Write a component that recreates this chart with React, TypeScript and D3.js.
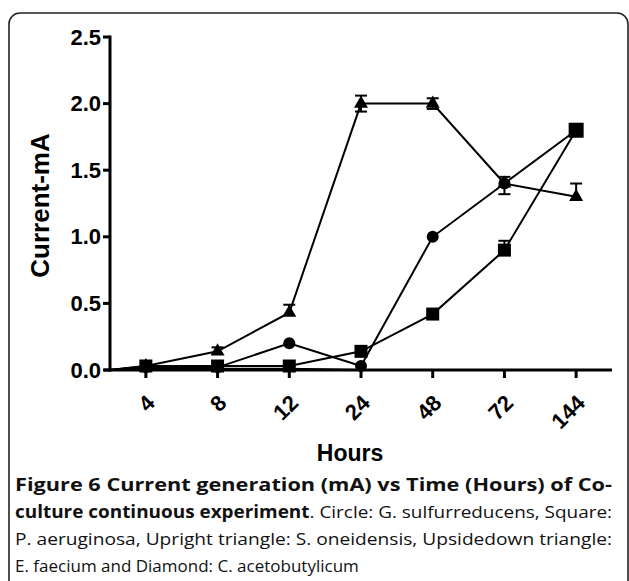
import * as d3 from "d3";

const hours = ["4", "8", "12", "24", "48", "72", "144"];
const yTicks = [0, 0.5, 1.0, 1.5, 2.0, 2.5];

// Circle: G. sulfurreducens
const circleVals = [0.02, 0.02, 0.2, 0.03, 1.0, 1.4, 1.8];
// Square: P. aeruginosa
const squareVals = [0.03, 0.03, 0.03, 0.14, 0.42, 0.9, 1.8];
const squareErrLo = [0, 0, 0, 0, 0, 0, 0.02];
const squareErrHi = [0, 0, 0, 0, 0, 0.07, 0.03];
// Upright triangle: S. oneidensis
const triVals = [0.03, 0.14, 0.43, 2.0, 2.0, 1.4, 1.3];
const triErrLo = [0, 0, 0, 0.06, 0.04, 0.08, 0];
const triErrHi = [0, 0.03, 0.06, 0.06, 0.04, 0.05, 0.1];
// Upsidedown triangle: E. faecium (hidden near the axis)
const invTriVals = [0.01, 0.01, 0.01, 0, 0, 0, 0];

const W = 629;
const H = 581;
const left = 110;
const right = 612;
const top = 37;
const bottom = 370;

const axisFont = "'Liberation Sans', Arial, Helvetica, sans-serif";
const capFont = "'Open Sans', 'DejaVu Sans', sans-serif";

export default function App() {
  const x = d3.scalePoint<string>().domain(hours).range([left, right]).padding(0.5);
  const y = d3.scaleLinear().domain([0, 2.5]).range([bottom, top]);

  const line = d3
    .line<[number, number]>()
    .x((d) => d[0])
    .y((d) => d[1]);

  // every series is joined back to the axis origin, as in the original plot
  const pathFor = (vals: number[]) => {
    const pts: [number, number][] = [[left, y(0)]];
    vals.forEach((v, i) => pts.push([x(hours[i])!, y(v)]));
    return line(pts)!;
  };

  const errBars = (vals: number[], lo: number[], hi: number[], key: string) =>
    vals.map((v, i) => {
      if (!lo[i] && !hi[i]) return null;
      const cx = x(hours[i])!;
      const y1 = y(v + hi[i]);
      const y2 = y(v - lo[i]);
      return (
        <g key={key + i} stroke="#000" strokeWidth={2}>
          <line x1={cx} x2={cx} y1={y1} y2={y2} />
          {hi[i] > 0 && <line x1={cx - 6} x2={cx + 6} y1={y1} y2={y1} />}
          {lo[i] > 0 && <line x1={cx - 6} x2={cx + 6} y1={y2} y2={y2} />}
        </g>
      );
    });

  const triSym = d3.symbol(d3.symbolTriangle, 85)()!;

  return (
    <svg
      width={W}
      height={H}
      style={{ position: "absolute", left: 0, top: 0, background: "#fff" }}
    >
      <rect x={9} y={13} width={619} height={600} rx={11} fill="#fff" stroke="#222" strokeWidth={1.6} />

      {/* series lines */}
      <g fill="none" stroke="#000" strokeWidth={2}>
        <path d={pathFor(invTriVals)} />
        <path d={pathFor(circleVals)} />
        <path d={pathFor(squareVals)} />
        <path d={pathFor(triVals)} />
      </g>

      {errBars(triVals, triErrLo, triErrHi, "t")}
      {errBars(squareVals, squareErrLo, squareErrHi, "s")}

      {/* markers */}
      {circleVals.map((v, i) => (
        <circle key={"c" + i} cx={x(hours[i])!} cy={y(v)} r={6} fill="#000" />
      ))}
      {triVals.map((v, i) => (
        <path key={"t" + i} d={triSym} transform={`translate(${x(hours[i])},${y(v)})`} fill="#000" />
      ))}
      {squareVals.map((v, i) => {
        const s = i === hours.length - 1 ? 15 : 13;
        return (
          <rect key={"s" + i} x={x(hours[i])! - s / 2} y={y(v) - s / 2} width={s} height={s} fill="#000" />
        );
      })}

      {/* axes */}
      <g stroke="#000" strokeWidth={3}>
        <line x1={left} x2={left} y1={top - 1.5} y2={bottom + 1.5} />
        <line x1={left - 6} x2={right} y1={bottom} y2={bottom} />
        {yTicks.map((t) => (
          <line key={"yt" + t} x1={left - 7} x2={left} y1={y(t)} y2={y(t)} />
        ))}
        {hours.map((h) => (
          <line key={"xt" + h} x1={x(h)!} x2={x(h)!} y1={bottom} y2={bottom + 8} />
        ))}
      </g>

      <g fontFamily={axisFont} fontWeight="bold" fontSize={22} fill="#000">
        {yTicks.map((t) => (
          <text key={"yl" + t} x={left - 9} y={y(t)} textAnchor="end" dominantBaseline="central">
            {d3.format(".1f")(t)}
          </text>
        ))}
        {hours.map((h) => (
          <text
            key={"xl" + h}
            transform={`translate(${x(h)! + 5},${bottom + 29}) rotate(-45)`}
            textAnchor="end"
            dominantBaseline="central"
          >
            {h}
          </text>
        ))}
        <text x={350} y={461} textAnchor="middle" fontSize={23}>
          Hours
        </text>
        <text transform={`translate(49,${(top + bottom) / 2 + 2}) rotate(-90)`} textAnchor="middle" fontSize={26}>
          Current-mA
        </text>
      </g>

      {/* caption */}
      <g fontFamily={capFont} fontSize={17} fill="#111">
        <text x={15} y={491} textLength={597} lengthAdjust="spacingAndGlyphs" fontWeight="bold">
          Figure 6 Current generation (mA) vs Time (Hours) of Co-
        </text>
        <text x={15} y={518} textLength={597} lengthAdjust="spacingAndGlyphs">
          <tspan fontWeight="bold">culture continuous experiment</tspan>. Circle: G. sulfurreducens, Square:
        </text>
        <text x={15} y={545} textLength={597} lengthAdjust="spacingAndGlyphs">
          P. aeruginosa, Upright triangle: S. oneidensis, Upsidedown triangle:
        </text>
        <text x={15} y={572}>
          E. faecium and Diamond: C. acetobutylicum
        </text>
      </g>
    </svg>
  );
}
